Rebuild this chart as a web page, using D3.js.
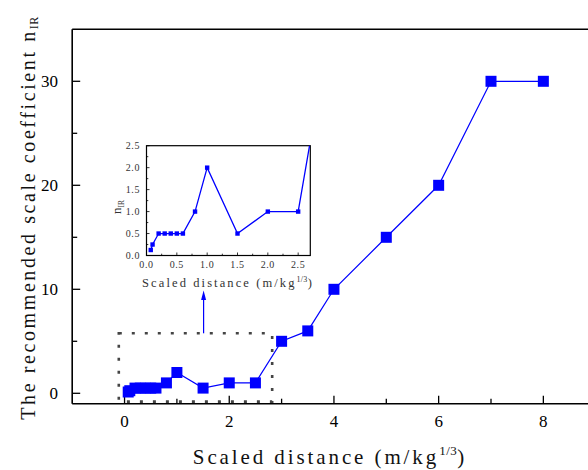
<!DOCTYPE html>
<html><head><meta charset="utf-8">
<script src="https://cdn.jsdelivr.net/npm/d3@7"></script>
<style>body{margin:0;background:#fff}svg{display:block}</style>
</head><body><svg id="c" width="588" height="470"></svg>
<script>
const distance = [0.07, 0.1, 0.2, 0.3, 0.4, 0.5, 0.6, 0.8, 1.0, 1.5, 2.0, 2.5, 3, 3.5, 4, 5, 6, 7, 8];
const coefficient = [0.125, 0.25, 0.5, 0.5, 0.5, 0.5, 0.5, 1, 2, 0.5, 1, 1, 5, 6, 10, 15, 20, 30, 30];
const xTicks = [0, 2, 4, 6, 8];
const yTicks = [0, 10, 20, 30];
const insetXTicks = [0, 0.5, 1.0, 1.5, 2.0, 2.5];
const insetYTicks = [0, 0.5, 1.0, 1.5, 2.0, 2.5];
const zoomBox = {x0: -0.11, x1: 2.82, y0: -0.8, y1: 5.77};

const svg = d3.select("#c");
const blue = "#0000ff";
const serif = "'Liberation Serif', serif";

// main scales
const x = d3.scaleLinear().domain([-1, 9]).range([72.2, 595.7]);
const y = d3.scaleLinear().domain([-1, 35]).range([403.7, 29.3]);

// frame lines
const g = svg.append("g");
g.append("line").attr("x1", x(-1)).attr("x2", 600).attr("y1", y(35)).attr("y2", y(35)).attr("stroke", "#000").attr("stroke-width", 1.6);
g.append("line").attr("x1", x(-1)).attr("x2", 600).attr("y1", y(-1)).attr("y2", y(-1)).attr("stroke", "#000").attr("stroke-width", 1.6);
g.append("line").attr("x1", x(-1)).attr("x2", x(-1)).attr("y1", y(35)).attr("y2", y(-1)).attr("stroke", "#000").attr("stroke-width", 1.6);

// x ticks (inward)
g.selectAll(".xt").data(d3.range(0, 9, 1)).join("line")
  .attr("x1", d => x(d)).attr("x2", d => x(d))
  .attr("y1", y(-1)).attr("y2", d => y(-1) - (d % 2 === 0 ? 8 : 5))
  .attr("stroke", "#000").attr("stroke-width", 1.3);
g.selectAll(".xl").data(xTicks).join("text")
  .attr("x", d => x(d)).attr("y", 427).attr("text-anchor", "middle")
  .attr("font-family", serif).attr("font-size", 17).text(d => d);
// y ticks (inward)
g.selectAll(".yt").data(d3.range(0, 35, 5)).join("line")
  .attr("x1", x(-1)).attr("x2", d => x(-1) + (d % 10 === 0 ? 8 : 5))
  .attr("y1", d => y(d)).attr("y2", d => y(d))
  .attr("stroke", "#000").attr("stroke-width", 1.3);
g.selectAll(".yl").data(yTicks).join("text")
  .attr("x", 58).attr("y", d => y(d) + 6).attr("text-anchor", "end")
  .attr("font-family", serif).attr("font-size", 17).text(d => d);

// axis titles
const xt = svg.append("text").attr("x", 330).attr("y", 464).attr("text-anchor", "middle")
  .attr("font-family", serif).attr("font-size", 21).attr("letter-spacing", 2.9).attr("fill", "#111");
xt.append("tspan").text("Scaled distance (m/kg");
xt.append("tspan").attr("font-size", 13).attr("letter-spacing", 0.5).attr("dy", -9).text("1/3");
xt.append("tspan").attr("dy", 9).text(")");

const yt = svg.append("text").attr("transform", "translate(35,218) rotate(-90)").attr("text-anchor", "middle")
  .attr("font-family", serif).attr("font-size", 20).attr("letter-spacing", 2.6).attr("fill", "#111");
yt.append("tspan").text("The recommended scale coefficient n");
yt.append("tspan").attr("font-size", 12).attr("letter-spacing", 0.5).attr("dy", 3).text("IR");

// zoom box
svg.append("rect").attr("x", x(zoomBox.x0)).attr("y", y(zoomBox.y1))
  .attr("width", x(zoomBox.x1) - x(zoomBox.x0)).attr("height", y(zoomBox.y0) - y(zoomBox.y1))
  .attr("fill", "none").attr("stroke", "#444").attr("stroke-width", 2.6).attr("stroke-dasharray", "3,10");

// main series
const pts = distance.map((d, i) => [d, coefficient[i]]);
svg.append("path").datum(pts)
  .attr("d", d3.line().x(d => x(d[0])).y(d => y(d[1])))
  .attr("fill", "none").attr("stroke", blue).attr("stroke-width", 1.2);
svg.selectAll(".m").data(pts).join("rect")
  .attr("x", d => x(d[0]) - 5.5).attr("y", d => y(d[1]) - 5.5)
  .attr("width", 11).attr("height", 11).attr("fill", blue);

// inset
const ix = d3.scaleLinear().domain([0, 2.7]).range([146.5, 310.3]);
const iy = d3.scaleLinear().domain([0, 2.5]).range([255.5, 145.7]);
svg.append("rect").attr("x", ix(0)).attr("y", iy(2.5)).attr("width", ix(2.7) - ix(0)).attr("height", iy(0) - iy(2.5))
  .attr("fill", "#fff").attr("stroke", "#000").attr("stroke-width", 1.2);
svg.append("clipPath").attr("id", "ic").append("rect")
  .attr("x", ix(0)).attr("y", iy(2.5)).attr("width", ix(2.7) - ix(0)).attr("height", iy(0) - iy(2.5));
const ig = svg.append("g");
ig.selectAll(".ixt").data(d3.range(0, 2.7, 0.25)).join("line")
  .attr("x1", d => ix(d)).attr("x2", d => ix(d)).attr("y1", iy(0))
  .attr("y2", (d, i) => iy(0) - (i % 2 === 0 ? 3 : 1.8)).attr("stroke", "#000").attr("stroke-width", 0.8);
ig.selectAll(".iyt").data(d3.range(0, 2.51, 0.25)).join("line")
  .attr("y1", d => iy(d)).attr("y2", d => iy(d)).attr("x1", ix(0))
  .attr("x2", (d, i) => ix(0) + (i % 2 === 0 ? 3 : 1.8)).attr("stroke", "#000").attr("stroke-width", 0.8);
ig.selectAll(".ixl").data(insetXTicks).join("text")
  .attr("x", d => ix(d)).attr("y", 267.5).attr("text-anchor", "middle")
  .attr("font-family", serif).attr("font-size", 10).attr("letter-spacing", 0.6).attr("fill", "#333").text(d => d.toFixed(1));
ig.selectAll(".iyl").data(insetYTicks).join("text")
  .attr("x", 140).attr("y", d => iy(d) + 3.3).attr("text-anchor", "end")
  .attr("font-family", serif).attr("font-size", 10).attr("letter-spacing", 0.6).attr("fill", "#333").text(d => d.toFixed(1));
const ixt = svg.append("text").attr("x", 228).attr("y", 286.5).attr("text-anchor", "middle")
  .attr("font-family", serif).attr("font-size", 12.5).attr("letter-spacing", 2.1).attr("fill", "#333");
ixt.append("tspan").text("Scaled distance (m/kg");
ixt.append("tspan").attr("font-size", 8).attr("letter-spacing", 0.3).attr("dy", -5).text("1/3");
ixt.append("tspan").attr("dy", 5).text(")");
const iyt = svg.append("text").attr("transform", "translate(121,207) rotate(-90)").attr("text-anchor", "middle")
  .attr("font-family", serif).attr("font-size", 13).attr("fill", "#333");
iyt.append("tspan").text("n");
iyt.append("tspan").attr("font-size", 7.5).attr("dy", 2.5).text("IR");

const ip = svg.append("g").attr("clip-path", "url(#ic)");
ip.append("path").datum(pts)
  .attr("d", d3.line().x(d => ix(d[0])).y(d => iy(d[1])))
  .attr("fill", "none").attr("stroke", blue).attr("stroke-width", 1.3);
ip.selectAll(".im").data(pts.filter(d => d[1] <= 2.5)).join("rect")
  .attr("x", d => ix(d[0]) - 2.2).attr("y", d => iy(d[1]) - 2.2)
  .attr("width", 4.4).attr("height", 4.4).attr("fill", blue);

// arrow from zoom box to inset
const ax = x(1.51);
svg.append("line").attr("x1", ax).attr("x2", ax).attr("y1", y(zoomBox.y1)).attr("y2", 298)
  .attr("stroke", blue).attr("stroke-width", 1.2);
svg.append("path").attr("d", `M${ax},290.5 L${ax - 2.5},300 L${ax + 2.5},300 Z`).attr("fill", blue);
</script></body></html>
